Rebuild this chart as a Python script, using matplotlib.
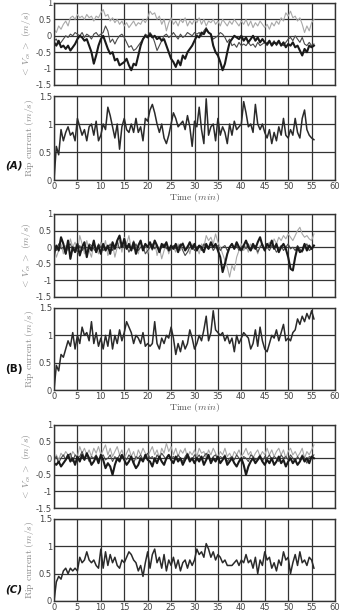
import numpy as np
import matplotlib
matplotlib.use("Agg")
import matplotlib.pyplot as plt

plt.rcParams['mathtext.fontset'] = 'cm'

dt = 0.5  # minutes between samples

# ---- panel A ----
va_light = [0.2, 0.1, 0.3, 0.2, 0.35, 0.45, 0.3, 0.55, 0.6, 0.5, 0.65,
            0.55, 0.6, 0.5, 0.65, 0.55, 0.6, 0.45, 0.6, 0.55, 0.7,
            0.8, 0.6, 0.65, 0.45, 0.55, 0.4, 0.5, 0.35, 0.45, 0.3,
            0.4, 0.25, 0.35, 0.45, 0.3, 0.4, 0.35, 0.5, 0.4, 0.55,
            0.75, 0.65, 0.7, 0.5, 0.6, 0.35, 0.5, 0.15, 0.4, 0.55,
            0.35, 0.45, 0.3, 0.5, 0.4, 0.55, 0.3, 0.45, 0.35, 0.5,
            0.4, 0.55, 0.35, 0.5, 0.3, 0.45, 0.4, 0.5, 0.35, 0.45,
            0.3, 0.5, 0.4, 0.3, 0.45, 0.35, 0.5, 0.4, 0.3, 0.45,
            0.35, 0.5, 0.3, 0.45, 0.25, 0.4, 0.3, 0.45, 0.35, 0.25,
            0.35, 0.2, 0.4, 0.3, 0.45, 0.35, 0.55, 0.45, 0.7, 0.6,
            0.75, 0.55, 0.6, 0.45, 0.55, 0.35, 0.1, 0.3, 0.15, 0.4, 0.5]
va_dark = [-0.2, -0.3, -0.15, -0.35, -0.3, -0.4, -0.3, -0.45, -0.35, -0.25, -0.1,
           0.0, -0.05, -0.15, -0.1, -0.3, -0.5, -0.85, -0.6, -0.3, -0.1,
           0.0, -0.2, -0.4, -0.55, -0.5, -0.75, -0.7, -0.9, -0.85, -0.8,
           -0.7, -0.9, -1.05, -0.85, -0.9, -0.6, -0.3, -0.1, 0.0, -0.05,
           0.05, -0.05, 0.0, -0.1, -0.05, -0.15, -0.1, -0.3, -0.5, -0.7,
           -0.8, -0.95, -0.75, -0.9, -0.6, -0.7, -0.5, -0.4, -0.3, -0.15,
           0.0, -0.05, 0.1, 0.05, 0.2, 0.1, 0.05, -0.3, -0.5, -0.6,
           -0.8, -1.05, -0.85, -0.5, -0.2, -0.1, 0.0, -0.05, -0.1, 0.0,
           -0.15, -0.05, -0.2, -0.1, 0.0, -0.15, -0.05, -0.2, -0.1, -0.2,
           -0.25, -0.15, -0.3, -0.2, -0.25, -0.15, -0.3, -0.2, -0.35, -0.25,
           -0.3, -0.2, -0.35, -0.3, -0.45, -0.6, -0.4, -0.5, -0.3, -0.35, -0.3]
va_mid = [-0.15, -0.1, -0.25, -0.2, -0.1, 0.0, -0.05, 0.05, 0.0, 0.1, 0.05,
          0.0, 0.1, -0.05, 0.05, 0.0, -0.1, 0.05, 0.1, 0.0, 0.05,
          0.1, 0.3, 0.15, -0.2, -0.1, -0.25, -0.1, 0.0, 0.05, -0.05,
          -0.2, -0.35, -0.3, -0.45, -0.4, -0.3, -0.2, -0.1, 0.05, 0.0,
          0.1, 0.0, -0.2, -0.45, -0.3, -0.15, 0.0, 0.05, -0.05, 0.0,
          0.1, 0.0, -0.1, 0.05, -0.05, 0.0, 0.1, 0.05, 0.0, 0.1,
          0.05, 0.1, 0.0, 0.15, 0.25, 0.1, 0.05, -0.1, -0.05, 0.0,
          0.1, 0.05, -0.05, -0.2, -0.1, -0.3, -0.25, -0.35, -0.2, -0.3,
          -0.25, -0.3, -0.2, -0.3, -0.25, -0.35, -0.2, -0.3, -0.25, -0.2,
          -0.3, -0.2, -0.25, -0.15, -0.3, -0.2, -0.25, -0.3, -0.2, -0.1,
          -0.05, -0.15, 0.0, -0.1, -0.2, -0.05, -0.25, -0.3, -0.2, -0.3, -0.25]
rip_a = [0.0, 0.6, 0.45, 0.9, 0.7, 0.85, 0.95, 0.8, 0.85, 0.7, 1.1,
         0.95, 0.8, 0.9, 0.7, 0.95, 1.0, 0.8, 1.05, 0.7, 0.8,
         1.0, 0.9, 1.3, 1.15, 0.95, 0.75, 1.0, 0.55, 0.95, 1.1,
         0.9, 0.85, 1.0, 0.85, 1.1, 0.85, 0.95, 0.7, 1.1, 1.05,
         1.25, 1.35, 1.2, 1.0, 0.85, 1.0, 0.75, 0.65, 0.8, 1.0,
         1.2, 1.1, 0.95, 1.0, 1.05, 0.9, 1.15, 0.95, 0.6, 1.05,
         0.95, 1.3, 0.9, 0.65, 1.45, 0.8, 0.95, 1.0, 0.7, 1.1,
         0.8, 0.95, 0.85, 0.65, 1.0, 0.8, 1.05, 0.9, 0.95, 1.0,
         1.4, 1.2, 0.95, 1.0, 0.85, 1.35, 1.0, 0.9, 1.0, 0.85,
         0.75, 0.9, 0.65, 0.85, 0.7, 0.95, 0.8, 1.1, 0.8, 0.75,
         0.9, 0.8, 1.1, 0.85, 0.75, 1.1, 1.25, 0.9, 0.8, 0.75, 0.72]

# ---- panel B ----
vb_light = [0.0, -0.3, -0.1, 0.1, -0.2, 0.05, -0.1, 0.25, 0.0, 0.15, -0.15,
            0.35, 0.1, -0.2, 0.2, -0.1, -0.3, 0.1, 0.0, -0.2, 0.15,
            -0.05, 0.2, -0.25, -0.1, 0.1, -0.3, 0.0, 0.2, -0.15, 0.3,
            0.1, 0.35, -0.05, 0.2, 0.0, -0.2, 0.15, -0.1, 0.1, -0.2,
            0.05, -0.1, 0.2, -0.25, 0.0, -0.35, -0.1, 0.1, -0.2, 0.05,
            0.0, -0.15, 0.1, -0.1, 0.15, -0.05, 0.05, -0.2, 0.1, -0.1,
            0.0, -0.2, 0.1, 0.0, 0.35, 0.2, 0.3, 0.1, 0.4, 0.15,
            0.0, -0.2, -0.4, -0.6, -0.9, -0.55, -0.7, -0.3, -0.1, 0.1,
            -0.1, 0.05, -0.15, 0.1, -0.05, 0.0, -0.2, 0.05, 0.1, -0.1,
            0.05, 0.15, 0.0, 0.25, 0.1, 0.3, 0.2, 0.35, 0.25, 0.4,
            0.3, 0.2, 0.35, 0.5, 0.6, 0.4, 0.3, 0.35, 0.25, 0.2, 0.4]
vb_dark = [-0.2, 0.05, -0.1, 0.3, 0.1, -0.2, 0.2, -0.35, 0.0, -0.15, 0.1,
           -0.25, 0.0, 0.15, -0.3, 0.05, -0.1, 0.2, -0.15, 0.05, -0.2,
           0.1, -0.1, 0.05, -0.2, 0.15, -0.05, 0.2, 0.35, 0.0, 0.25,
           -0.05, 0.1, -0.1, 0.15, -0.2, 0.05, 0.2, -0.1, 0.1, 0.0,
           0.15, -0.05, 0.2, 0.05, -0.15, 0.1, 0.0, 0.15, -0.1, 0.05,
           -0.05, 0.1, -0.15, 0.05, 0.1, -0.1, 0.0, 0.15, -0.05, 0.1,
           -0.1, 0.05, 0.0, -0.15, 0.1, -0.05, 0.15, 0.0, 0.1, -0.1,
           -0.3, -0.75, -0.5, -0.2, 0.0, 0.1, -0.05, 0.15, 0.0, -0.1,
           0.05, 0.2, 0.0, -0.1, 0.1, -0.05, 0.15, 0.3, 0.05, -0.1,
           0.1, 0.0, 0.2, -0.05, 0.1, -0.15, 0.0, 0.1, -0.05, -0.3,
           -0.65, -0.7, -0.3, 0.0, -0.15, -0.1, 0.1, -0.1, 0.05, -0.05, 0.05]
vb_mid = [0.05, -0.1, 0.1, -0.05, 0.0, -0.2, 0.05, 0.1, -0.1, 0.0, -0.15,
          0.05, -0.1, 0.0, -0.2, 0.1, 0.05, -0.05, -0.15, 0.1, 0.0,
          -0.1, 0.0, -0.05, 0.1, -0.1, 0.05, 0.15, -0.05, 0.1, 0.0,
          0.05, -0.15, 0.0, -0.05, 0.1, -0.1, 0.0, 0.05, -0.2, -0.1,
          0.0, 0.1, -0.05, 0.05, -0.1, 0.0, 0.1, -0.05, 0.0, -0.1,
          0.05, -0.05, 0.0, 0.1, -0.1, -0.25, -0.15, 0.0, 0.05, -0.1,
          0.0, 0.05, -0.1, 0.1, 0.0, -0.05, 0.1, -0.1, 0.0, 0.05,
          -0.1, 0.0, 0.05, -0.1, 0.0, 0.1, -0.05, 0.05, -0.1, 0.0,
          0.05, -0.05, 0.1, -0.1, 0.0, 0.05, -0.15, 0.0, 0.1, -0.05,
          0.0, -0.1, 0.05, 0.0, -0.15, -0.05, 0.05, -0.1, 0.0, 0.1,
          -0.05, 0.0, -0.1, 0.05, -0.05, -0.15, 0.0, 0.1, -0.1, -0.05, 0.0]
rip_b = [0.0, 0.45, 0.35, 0.65, 0.6, 0.75, 0.9, 0.8, 1.05, 0.75, 1.0,
         0.85, 1.15, 1.0, 1.05, 0.9, 1.25, 0.85, 1.05, 0.8, 0.95,
         0.75, 1.0, 0.8, 1.1, 0.75, 1.0, 0.85, 1.1, 0.9, 1.05,
         1.25, 1.15, 1.05, 0.85, 1.0, 0.95, 0.85, 1.05, 0.8, 0.85,
         0.8, 0.85, 1.25, 0.85, 0.75, 0.95, 0.85, 1.0, 0.95, 1.15,
         0.95, 0.65, 0.85, 0.7, 0.9, 0.75, 0.85, 1.1, 0.95, 0.75,
         0.85, 1.0, 0.9, 1.1, 1.35, 0.9, 1.05, 1.45, 1.1, 1.05,
         1.0, 1.05, 0.9, 1.0, 0.85, 0.95, 0.7, 1.0, 0.85, 0.95,
         1.05, 1.0, 0.95, 0.75, 0.85, 1.1, 0.8, 1.15, 0.9, 0.75,
         0.7, 0.85, 1.0, 0.95, 1.1, 0.9, 1.05, 1.2, 0.9, 0.95,
         0.9, 1.05, 1.1, 1.3, 1.2, 1.35, 1.25, 1.4, 1.3, 1.45, 1.3]

# ---- panel C ----
vc_light = [-0.1, 0.1, -0.05, 0.15, 0.05, 0.2, 0.1, 0.0, 0.2, 0.1, 0.05,
            0.35, 0.15, 0.3, 0.1, 0.25, 0.05, 0.3, 0.15, 0.35, 0.1,
            0.25, 0.4, 0.1, 0.3, 0.05, 0.2, 0.35, 0.1, 0.25, 0.0,
            0.15, 0.3, 0.05, 0.2, -0.05, 0.25, 0.1, 0.3, 0.15, 0.05,
            0.2, 0.35, 0.1, 0.25, 0.0, 0.3, 0.15, 0.45, 0.2, 0.35,
            0.1, 0.3, 0.05, 0.25, 0.15, 0.3, 0.0, 0.2, 0.1, 0.25,
            0.05, 0.3, 0.15, 0.2, 0.0, 0.25, 0.1, 0.3, 0.15, 0.0,
            0.2, 0.1, 0.3, 0.05, 0.15, 0.0, 0.2, 0.1, 0.25, 0.05,
            0.15, 0.3, 0.1, 0.2, 0.0, 0.15, 0.25, 0.05, 0.2, 0.1,
            0.3, 0.1, 0.25, 0.05, 0.2, 0.3, 0.1, 0.25, 0.0, 0.2,
            0.3, 0.1, 0.2, 0.05, 0.15, 0.3, 0.0, 0.2, 0.1, 0.25, 0.4]
vc_dark = [-0.15, -0.2, -0.1, -0.25, -0.15, -0.05, 0.1, -0.1, 0.0, -0.2, 0.05,
           -0.1, 0.1, -0.05, 0.15, 0.0, -0.2, -0.1, 0.05, -0.15, 0.1,
           -0.05, -0.3, -0.15, -0.25, -0.5, -0.2, 0.0, -0.1, 0.1, -0.05,
           -0.2, -0.1, 0.05, -0.15, -0.3, -0.2, 0.0, -0.1, 0.1, -0.05,
           -0.1, -0.25, 0.0, -0.15, 0.05, -0.1, -0.2, 0.0, 0.1, -0.05,
           -0.15, 0.05, -0.1, 0.0, -0.2, -0.05, 0.1, -0.1, 0.0, -0.15,
           0.0, -0.1, 0.05, -0.2, -0.05, 0.1, -0.15, 0.0, -0.1, 0.05,
           -0.15, -0.05, 0.05, -0.2, -0.1, 0.0, -0.15, -0.25, -0.1, 0.0,
           -0.2, -0.5, -0.25, -0.1, 0.0, -0.15, -0.05, 0.05, -0.1, -0.2,
           -0.05, -0.15, 0.0, -0.2, -0.1, 0.05, -0.15, -0.05, -0.25, -0.1,
           0.0, -0.15, -0.05, -0.2, -0.1, 0.05, -0.1, 0.0, -0.15, 0.05, 0.0]
vc_mid = [-0.05, 0.05, -0.15, 0.0, 0.1, -0.05, 0.05, 0.15, -0.1, 0.1, 0.0,
          0.05, 0.2, 0.0, 0.1, -0.1, 0.05, 0.0, 0.1, -0.05, 0.05,
          0.1, -0.05, 0.0, 0.1, -0.1, 0.05, -0.05, 0.1, 0.0, 0.05,
          -0.05, 0.1, 0.0, -0.15, 0.05, 0.0, 0.1, -0.05, 0.05, 0.15,
          0.0, 0.05, -0.1, 0.1, 0.0, 0.15, 0.05, -0.05, 0.1, 0.0,
          0.05, -0.05, 0.1, 0.0, -0.1, 0.05, 0.15, 0.0, -0.05, 0.1,
          0.0, 0.1, -0.05, 0.05, 0.15, 0.0, -0.1, 0.05, 0.1, -0.05,
          0.05, 0.0, 0.1, -0.1, 0.0, 0.05, -0.05, 0.1, 0.0, -0.1,
          0.05, 0.0, -0.1, 0.1, 0.05, -0.05, 0.0, 0.1, -0.1, 0.05,
          0.0, 0.1, -0.05, 0.05, 0.0, -0.1, 0.1, 0.0, 0.05, -0.05,
          0.1, 0.0, -0.1, 0.05, -0.05, 0.1, 0.0, -0.15, 0.05, 0.0, 0.1]
rip_c = [0.0, 0.35, 0.45, 0.4, 0.55, 0.6, 0.5, 0.6, 0.55, 0.6, 0.55,
         0.8, 0.7, 0.75, 0.9, 0.75, 0.7, 0.75, 0.65, 0.6, 0.95,
         0.6, 0.9, 0.65, 0.85, 0.7, 0.8, 0.65, 0.6, 0.75, 0.7,
         0.8, 0.9, 0.85, 0.75, 0.7, 0.55, 0.65, 0.45, 0.7, 0.9,
         0.6, 0.85, 0.95, 0.7, 0.8, 0.6, 0.85, 0.55, 0.75, 0.65,
         0.8, 0.6, 0.75, 0.55, 0.7, 0.75, 0.6, 0.75, 0.65, 0.75,
         0.95, 0.85, 0.9, 0.8, 1.05, 0.95, 0.8, 0.9, 0.75, 0.85,
         0.8, 0.7, 0.75, 0.65, 0.65, 0.65, 0.7, 0.75, 0.65, 0.75,
         0.7, 0.85, 0.7, 0.75, 0.6, 0.8, 0.5, 0.75, 0.65, 0.9,
         0.75, 0.8, 0.6, 0.7, 0.55, 0.75, 0.65, 0.9, 0.75, 0.8,
         0.5, 0.7, 0.85, 0.65, 0.9, 0.7, 0.75, 0.65, 0.8, 0.75, 0.6]

panels = [("(A)", va_light, va_mid, va_dark, rip_a, True),
          ("(B)", vb_light, vb_mid, vb_dark, rip_b, True),
          ("(C)", vc_light, vc_mid, vc_dark, rip_c, False)]

fig = plt.figure(figsize=(3.41, 6.14), dpi=100)
W, H = 341.0, 614.0
# pixel boxes (top, bottom) of each axes
boxes = [(3, 85), (96, 180), (214, 297), (308, 390), (425, 508), (519, 601)]
left, right = 54, 335
label_y = [166, 369, 589]
label_style = ['italic', 'normal', 'italic']

grid_c = '#333333'
tick_c = '#444444'
lab_c = '#8a8a8a'


def make_ax(top, bot):
    ax = fig.add_axes([left / W, 1 - bot / H, (right - left) / W, (bot - top) / H])
    ax.set_xlim(0, 60)
    ax.set_xticks(np.arange(0, 61, 5))
    ax.grid(True, color=grid_c, linewidth=0.9)
    ax.set_axisbelow(True)
    ax.tick_params(length=0, labelsize=6, colors=tick_c, pad=1.5)
    for s in ax.spines.values():
        s.set_color(grid_c)
        s.set_linewidth(1.0)
    return ax


for i, (name, light, mid, dark, rip, show_time) in enumerate(panels):
    t = np.arange(len(rip)) * dt

    ax = make_ax(*boxes[2 * i])
    ax.plot(np.arange(len(light)) * dt, light, color='#a8a8a8', lw=0.8)
    ax.plot(np.arange(len(mid)) * dt, mid, color='#4a4a4a', lw=0.8)
    ax.plot(np.arange(len(dark)) * dt, dark, color='#1a1a1a', lw=1.5)
    ax.set_ylim(-1.5, 1)
    ax.set_yticks([-1.5, -1, -0.5, 0, 0.5, 1])
    ax.set_yticklabels(['-1.5', '-1', '-0.5', '0', '0.5', '1'])
    ax.set_xticklabels([])
    ax.set_ylabel(r'$<\,V_{cs}\,>\ (m/s)$', fontsize=7, color=lab_c, labelpad=2)

    ax2 = make_ax(*boxes[2 * i + 1])
    ax2.plot(t, rip, color='#2a2a2a', lw=1.1)
    ax2.set_ylim(0, 1.5)
    ax2.set_yticks([0, 0.5, 1, 1.5])
    ax2.set_yticklabels(['0', '0.5', '1', '1.5'])
    ax2.set_ylabel(r'$\mathrm{Rip\ current}\ (m/s)$', fontsize=7, color=lab_c, labelpad=2)
    if show_time:
        ax2.set_xlabel(r'$\mathrm{Time}\ (min)$', fontsize=7, color='#555555', labelpad=0)

    fig.text(14 / W, 1 - label_y[i] / H, name, fontsize=7.5, fontweight='bold',
             style=label_style[i], ha='center', va='center', color='#111111')

fig.savefig('out.png', dpi=100)
